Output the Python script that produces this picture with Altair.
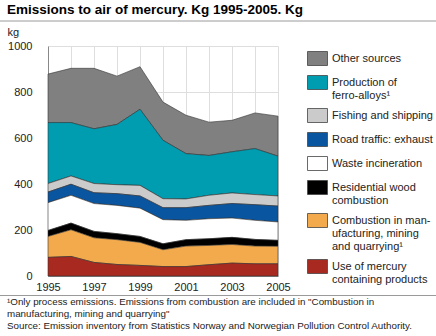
import altair as alt
import pandas as pd

years = [1995, 1996, 1997, 1998, 1999, 2000, 2001, 2002, 2003, 2004, 2005]

# legend order (top to bottom); stacking is the reverse (mercury at the bottom)
categories = [
    "Other sources",
    "Production of|ferro-alloys¹",
    "Fishing and shipping",
    "Road traffic: exhaust",
    "Waste incineration",
    "Residential wood|combustion",
    "Combustion in man-|ufacturing, mining|and quarrying¹",
    "Use of mercury|containing products",
]
colors = ["#808081", "#009db1", "#cbcbcb", "#0a55a0", "#ffffff", "#000000", "#f2aa4d", "#a8291f"]

other = [211, 236, 263, 210, 185, 166, 167, 145, 137, 155, 174]
ferro = [265, 232, 238, 262, 331, 254, 197, 173, 179, 200, 173]
fishing = [37, 36, 40, 39, 46, 39, 38, 44, 46, 44, 44]
road = [46, 48, 47, 51, 53, 52, 55, 58, 63, 68, 69]
waste = [121, 121, 121, 123, 123, 105, 84, 87, 84, 83, 80]
wood = [26, 29, 28, 26, 26, 26, 28, 29, 31, 29, 26]
combustion = [91, 116, 107, 108, 100, 73, 89, 84, 81, 77, 76]
mercury = [81, 85, 59, 50, 46, 41, 41, 49, 56, 53, 53]

series = [other, ferro, fishing, road, waste, wood, combustion, mercury]

title_text = "Emissions to air of mercury. Kg 1995-2005. Kg"
footnote_lines = [
    "¹Only process emissions. Emissions from combustion are included in \"Combustion in",
    "manufacturing, mining and quarrying\"",
    "Source: Emission inventory from Statistics Norway and Norwegian Pollution Control Authority.",
]

rows = []
for idx, (name, vals) in enumerate(zip(categories, series)):
    for yr, v in zip(years, vals):
        rows.append({"year": yr, "kg": v, "source": name, "stackorder": len(categories) - idx})
df = pd.DataFrame(rows)

FONT = "Liberation Sans"

area = alt.Chart(df).mark_area(
    stroke="#333333", strokeWidth=0.6, interpolate="linear"
).encode(
    x=alt.X(
        "year:Q",
        scale=alt.Scale(domain=[1995, 2005], nice=False, zero=False),
        axis=alt.Axis(
            values=years,
            labelExpr="datum.value % 2 == 1 ? datum.label : ''",
            format="d",
            title=None,
            ticks=False,
            labelPadding=5,
            domainColor="#888888",
            gridColor="#dedede",
            labelFont=FONT,
            labelFontSize=11,
            labelColor="#222222",
            labelFlush=False,
        ),
    ),
    y=alt.Y(
        "kg:Q",
        stack="zero",
        scale=alt.Scale(domain=[0, 1000], nice=False),
        axis=alt.Axis(
            values=[0, 200, 400, 600, 800, 1000],
            format="d",
            title="kg",
            titleAngle=0,
            titleAlign="left",
            titleBaseline="middle",
            titleX=-41,
            titleY=-14,
            titleFont=FONT,
            titleFontSize=11,
            titleFontWeight="normal",
            titleColor="#222222",
            ticks=False,
            labelPadding=16,
            domainColor="#888888",
            gridColor="#dedede",
            labelFont=FONT,
            labelFontSize=11,
            labelColor="#222222",
        ),
    ),
    color=alt.Color(
        "source:N",
        sort=categories,
        scale=alt.Scale(domain=categories, range=colors),
        legend=alt.Legend(
            title=None,
            orient="none",
            legendX=259,
            legendY=2,
            padding=0,
            symbolType="M-1,-0.7H1V0.7H-1Z",
            symbolSize=400,
            symbolStrokeColor="#444444",
            symbolStrokeWidth=0.8,
            symbolOpacity=1,
            labelOffset=4,
            labelFont=FONT,
            labelFontSize=11,
            labelColor="#222222",
            labelLimit=200,
            rowPadding=4,
            labelExpr="split(datum.label, '|')",
        ),
    ),
    order=alt.Order("stackorder:Q", sort="ascending"),
)

title = alt.Chart(pd.DataFrame({"t": [title_text]})).mark_text(
    align="left", baseline="alphabetic", font=FONT, fontSize=13.5, fontWeight="bold", color="#000000"
).encode(text="t:N", x=alt.value(-41), y=alt.value(-32))

rule_top = alt.Chart(pd.DataFrame({"a": [0]})).mark_rule(color="#9a9a9a", strokeWidth=1).encode(
    x=alt.value(-48), x2=alt.value(388), y=alt.value(-25)
)
rule_bottom = alt.Chart(pd.DataFrame({"a": [0]})).mark_rule(color="#9a9a9a", strokeWidth=1).encode(
    x=alt.value(-48), x2=alt.value(388), y=alt.value(249.5)
)

foot = alt.Chart(pd.DataFrame({"a": [0]})).mark_text(
    align="left", baseline="top", font=FONT, fontSize=9.8, lineHeight=12, color="#222222"
).encode(
    text=alt.value(footnote_lines),
    x=alt.value(-41),
    y=alt.value(251),
)

chart = alt.layer(area, title, rule_top, rule_bottom, foot).properties(
    width=230,
    height=230,
    autosize=alt.AutoSizeParams(type="none"),
    padding={"left": 48, "top": 46, "right": 158, "bottom": 60},
).configure_view(stroke=None)

chart.save("out.html", embed_options={"renderer": "svg", "actions": False})
